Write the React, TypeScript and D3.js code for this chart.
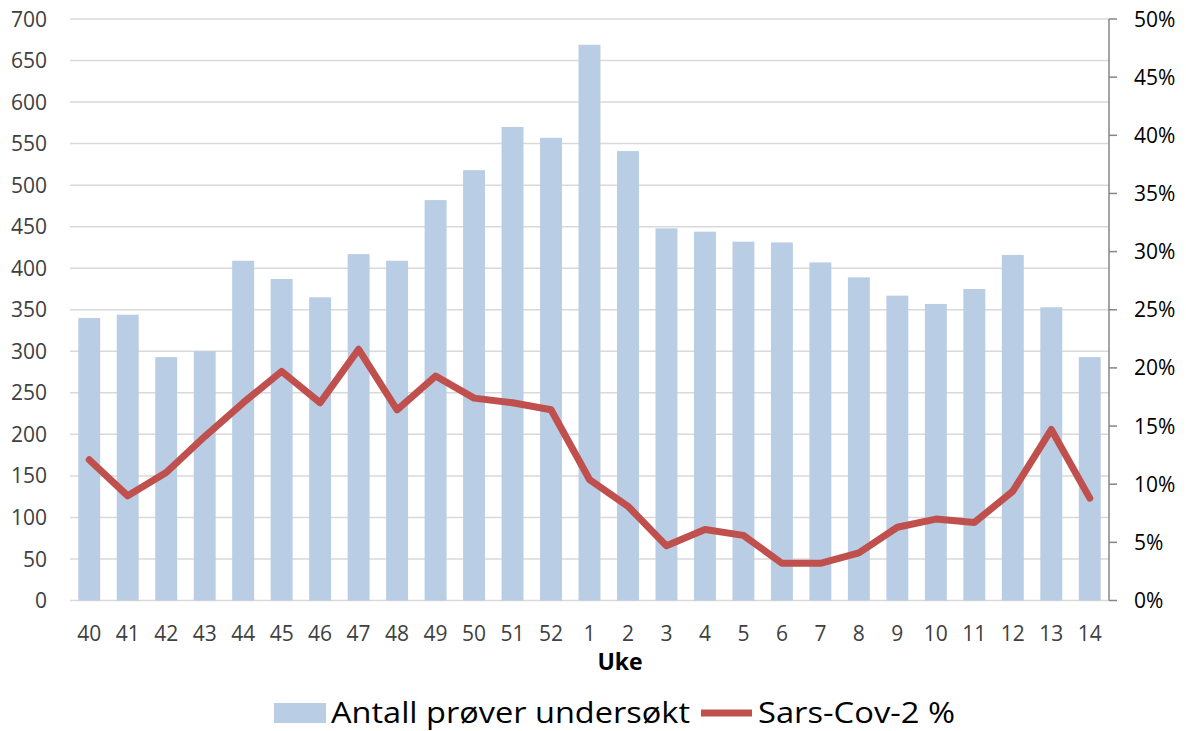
import React from "react";
import * as d3 from "d3";

const weeks = ["40","41","42","43","44","45","46","47","48","49","50","51","52","1","2","3","4","5","6","7","8","9","10","11","12","13","14"];
const samples = [340,344,293,300,409,387,365,417,409,482,518,570,557,669,541,448,444,432,431,407,389,367,357,375,416,353,293];
const positivePct = [12.1,9.0,11.0,14.1,17.0,19.7,17.0,21.6,16.4,19.3,17.4,17.0,16.4,10.4,8.1,4.7,6.1,5.6,3.2,3.2,4.1,6.3,7.0,6.7,9.4,14.7,8.8];
const leftTicks = [0,50,100,150,200,250,300,350,400,450,500,550,600,650,700];
const rightTicks = [0,5,10,15,20,25,30,35,40,45,50];
const barLabel = "Antall prøver undersøkt";
const lineLabel = "Sars-Cov-2 %";
const xTitle = "Uke";

const W = 1186, H = 731;
const m = { left: 70, right: 1109, top: 19, bottom: 600.5 };
const FONT = "'Open Sans', 'Liberation Sans', sans-serif";

export default function App() {
  const x = d3.scaleBand<string>().domain(weeks).range([m.left, m.right]).paddingInner(0.43).paddingOuter(0.215);
  const yL = d3.scaleLinear().domain([0, 700]).range([m.bottom, m.top]);
  const yR = d3.scaleLinear().domain([0, 50]).range([m.bottom, m.top]);
  const xc = (w: string) => (x(w) as number) + x.bandwidth() / 2;
  const line = d3.line<number>().x((_, i) => xc(weeks[i])).y(d => yR(d));

  return (
    <svg width={W} height={H} style={{ position: "absolute", left: 0, top: 0, background: "#fff" }}>
      {leftTicks.map(t => (
        <line key={"g" + t} x1={m.left} x2={m.right} y1={yL(t)} y2={yL(t)} stroke="#D9D9D9" strokeWidth={1.5} />
      ))}
      {weeks.map((w, i) => (
        <rect key={"b" + w} x={x(w)} y={yL(samples[i])} width={x.bandwidth()} height={yL(0) - yL(samples[i])} fill="#B9CDE5" />
      ))}
      <path d={line(positivePct) || ""} fill="none" stroke="#C0504D" strokeWidth={7} strokeLinejoin="round" strokeLinecap="round" />
      {/* right axis */}
      <line x1={m.right} x2={m.right} y1={m.top} y2={m.bottom} stroke="#868686" strokeWidth={1.5} />
      {rightTicks.map(t => (
        <g key={"r" + t}>
          <line x1={m.right} x2={m.right + 8} y1={yR(t)} y2={yR(t)} stroke="#868686" strokeWidth={1.5} />
          <text x={1134} y={yR(t)} dy="0.36em" fontFamily={FONT} fontSize={21} fill="#000">{t + "%"}</text>
        </g>
      ))}
      {leftTicks.map(t => (
        <text key={"l" + t} x={47} y={yL(t)} dy="0.36em" textAnchor="end" fontFamily={FONT} fontSize={21} fill="#404040">{t}</text>
      ))}
      {weeks.map(w => (
        <text key={"x" + w} x={xc(w)} y={633} dy="0.36em" textAnchor="middle" fontFamily={FONT} fontSize={21} fill="#404040">{w}</text>
      ))}
      <text x={620} y={662} dy="0.36em" textAnchor="middle" fontFamily={FONT} fontSize={23} fontWeight="bold" fill="#000">{xTitle}</text>
      {/* legend */}
      <rect x={274} y={703} width={52} height={20} fill="#B9CDE5" />
      <text x={331} y={713} dy="0.36em" fontFamily={FONT} fontSize={29} fill="#000" textLength={359} lengthAdjust="spacingAndGlyphs">{barLabel}</text>
      <line x1={701} x2={752} y1={713} y2={713} stroke="#C0504D" strokeWidth={7} />
      <text x={758} y={713} dy="0.36em" fontFamily={FONT} fontSize={29} fill="#000" textLength={197} lengthAdjust="spacingAndGlyphs">{lineLabel}</text>
    </svg>
  );
}
